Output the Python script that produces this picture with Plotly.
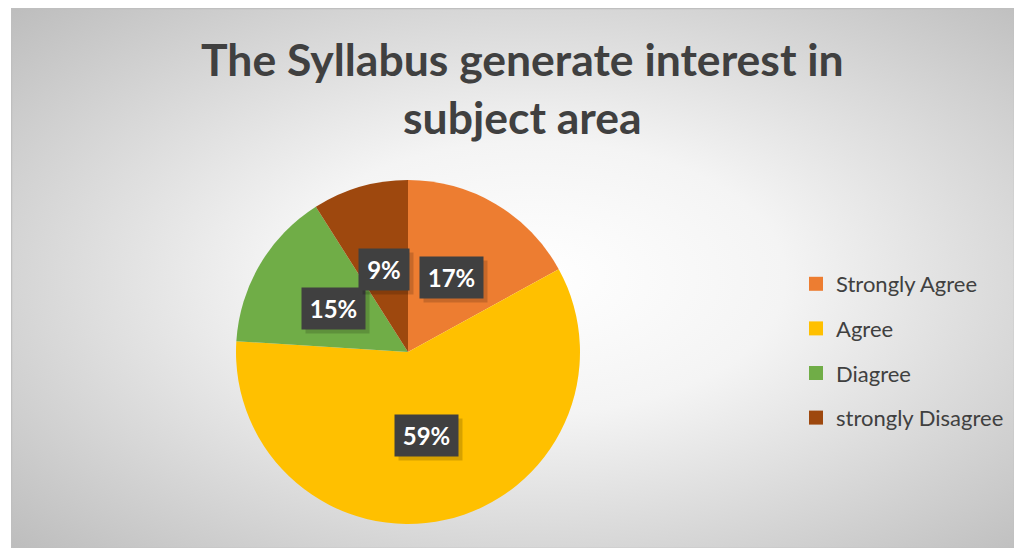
import math
import base64
import plotly.graph_objects as go

# ---- data ----
categories = ["Strongly Agree", "Agree", "Diagree", "strongly Disagree"]
values = [17, 59, 15, 9]
colors = ["#ED7D31", "#FFC000", "#70AD47", "#9E480E"]
title_text = "The Syllabus generate interest in<br>subject area"

W, H = 1014, 548
cx, cy, R = 408, 352, 172  # pie centre/radius in pixels

# background radial gradient (chart area)
svg = f'''<svg xmlns="http://www.w3.org/2000/svg" width="{W-11}" height="{H-8}">
<defs><radialGradient id="g" cx="0.52" cy="0.5" r="0.72">
<stop offset="0" stop-color="#ffffff"/><stop offset="0.35" stop-color="#f4f4f4"/>
<stop offset="1" stop-color="#bdbdbd"/></radialGradient></defs>
<rect x="0" y="0" width="{W-11}" height="{H-8}" fill="url(#g)"/>
<rect x="0.5" y="0.5" width="{W-11}" height="{H-8}" fill="none" stroke="#bfbfbf" stroke-width="1.5"/>
</svg>'''
bg = "data:image/svg+xml;base64," + base64.b64encode(svg.encode()).decode()

fig = go.Figure()
fig.add_trace(go.Pie(
    labels=categories, values=values, sort=False, direction="clockwise",
    rotation=0, marker=dict(colors=colors, line=dict(width=0)),
    textinfo="none", hoverinfo="label+percent", showlegend=False,
    domain=dict(x=[(cx - R) / W, (cx + R) / W], y=[1 - (cy + R) / H, 1 - (cy - R) / H]),
))

# legend entries via dummy traces (allows spacing between items)
for i, (c, col) in enumerate(zip(categories, colors)):
    fig.add_trace(go.Scatter(
        x=[None], y=[None], mode="markers", name=c, legendgroup=str(i),
        marker=dict(symbol="square", size=14, color=col), hoverinfo="skip"))

# data labels, computed from values at half radius on each slice's mid-angle
total = sum(values)
cum = 0
annotations = []
for v in values:
    mid = (cum + v / 2) / total * 2 * math.pi
    cum += v
    dx = 0.5 * R * math.sin(mid)
    dy = 0.5 * R * math.cos(mid)
    label = f"{v}%"
    w = 34 if len(label) == 2 else 47
    common = dict(x=cx / W, y=1 - cy / H, xref="paper", yref="paper",
                  showarrow=False, height=25, width=w, borderpad=8)
    annotations.append(dict(common, text=" ", xshift=dx + 4, yshift=dy - 4,
                            bgcolor="rgba(0,0,0,0.16)", font=dict(size=24)))
    annotations.append(dict(common, text=f"<b>{label}</b>", xshift=dx, yshift=dy,
                            bgcolor="#404040",
                            font=dict(family="Lato", size=24, color="white")))

# title as annotation for exact placement
annotations.append(dict(text=f"<b>{title_text}</b>", x=522 / W, y=1 - 30 / H,
                        xref="paper", yref="paper", xanchor="center", yanchor="top",
                        showarrow=False,
                        font=dict(family="Lato", size=44.5, color="#404040")))

fig.update_layout(
    width=W, height=H, margin=dict(l=0, r=0, t=0, b=0),
    paper_bgcolor="white", plot_bgcolor="rgba(0,0,0,0)",
    xaxis=dict(visible=False), yaxis=dict(visible=False),
    images=[dict(source=bg, xref="paper", yref="paper", x=11 / W, y=1 - 8 / H,
                 sizex=(W - 11) / W, sizey=(H - 8) / H, xanchor="left", yanchor="top",
                 sizing="stretch", layer="below")],
    legend=dict(x=796 / W, xanchor="left", y=1 - 351 / H, yanchor="middle",
                traceorder="grouped", tracegroupgap=13, bgcolor="rgba(0,0,0,0)",
                font=dict(family="Lato", size=22, color="#404040")),
    annotations=annotations,
)

fig.write_html("out.html", config={"displayModeBar": False},
               post_script="document.body.style.margin='0';")
